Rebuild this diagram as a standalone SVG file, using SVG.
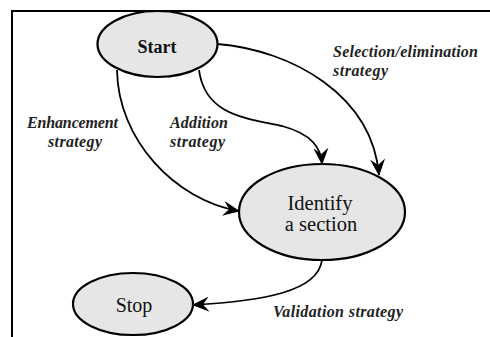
<svg xmlns="http://www.w3.org/2000/svg" width="490" height="337" viewBox="0 0 490 337">
  <style>
    .node { fill: #e6e6e6; stroke: #000; stroke-width: 2.2; }
    .frame { fill: none; stroke: #000; stroke-width: 2; }
    .edge { fill: none; stroke: #000; stroke-width: 1.8; }
    .ntext { font-family: 'Liberation Serif', 'Times New Roman', serif; fill: #111; text-anchor: middle; }
    .label { font-family: 'Liberation Serif', 'Times New Roman', serif; font-style: italic; font-weight: bold; font-size: 16px; fill: #222; }
  </style>
  <defs>
    <marker id="arrow" viewBox="0 0 17 15" refX="16" refY="7.5" markerWidth="17" markerHeight="15" markerUnits="userSpaceOnUse" orient="auto">
      <path d="M0,0 L17,7.5 L0,15 L6,7.5 z" fill="#000"/>
    </marker>
  </defs>
  <rect width="490" height="337" fill="#fff"/>
  <path class="frame" d="M12,337 L12,11 L490,11"/>

  <g id="connectors">
    <path class="edge" marker-end="url(#arrow)" d="M117,70 C118,140 175,200 239,211"/>
    <path class="edge" marker-end="url(#arrow)" d="M199,70 C205,115 245,118 282,126 C312,134 321,148 322,164"/>
    <path class="edge" marker-end="url(#arrow)" d="M217,44 C292,50 372,95 379,175"/>
    <path class="edge" marker-end="url(#arrow)" d="M322,260 C318,292 262,301 193,305"/>
  </g>

  <g id="start">
    <ellipse class="node" cx="157.5" cy="44" rx="60" ry="33"/>
    <text class="ntext" x="157" y="53" font-size="18" font-weight="bold">Start</text>
  </g>
  <g id="identify">
    <ellipse class="node" cx="322" cy="212" rx="83" ry="48"/>
    <text class="ntext" x="320" y="210" font-size="20.5">Identify</text>
    <text class="ntext" x="321" y="231" font-size="20.5">a section</text>
  </g>
  <g id="stop">
    <ellipse class="node" cx="133" cy="304" rx="60" ry="31"/>
    <text class="ntext" x="134" y="312" font-size="20">Stop</text>
  </g>

  <g id="labels">
    <text class="label" x="333" y="57" textLength="145">Selection/elimination</text>
    <text class="label" x="333" y="76" textLength="55">strategy</text>
    <text class="label" x="27" y="128" textLength="91">Enhancement</text>
    <text class="label" x="48" y="147" textLength="54">strategy</text>
    <text class="label" x="170" y="128" textLength="58">Addition</text>
    <text class="label" x="170" y="147" textLength="55">strategy</text>
    <text class="label" x="273" y="317" textLength="130">Validation strategy</text>
  </g>
</svg>
